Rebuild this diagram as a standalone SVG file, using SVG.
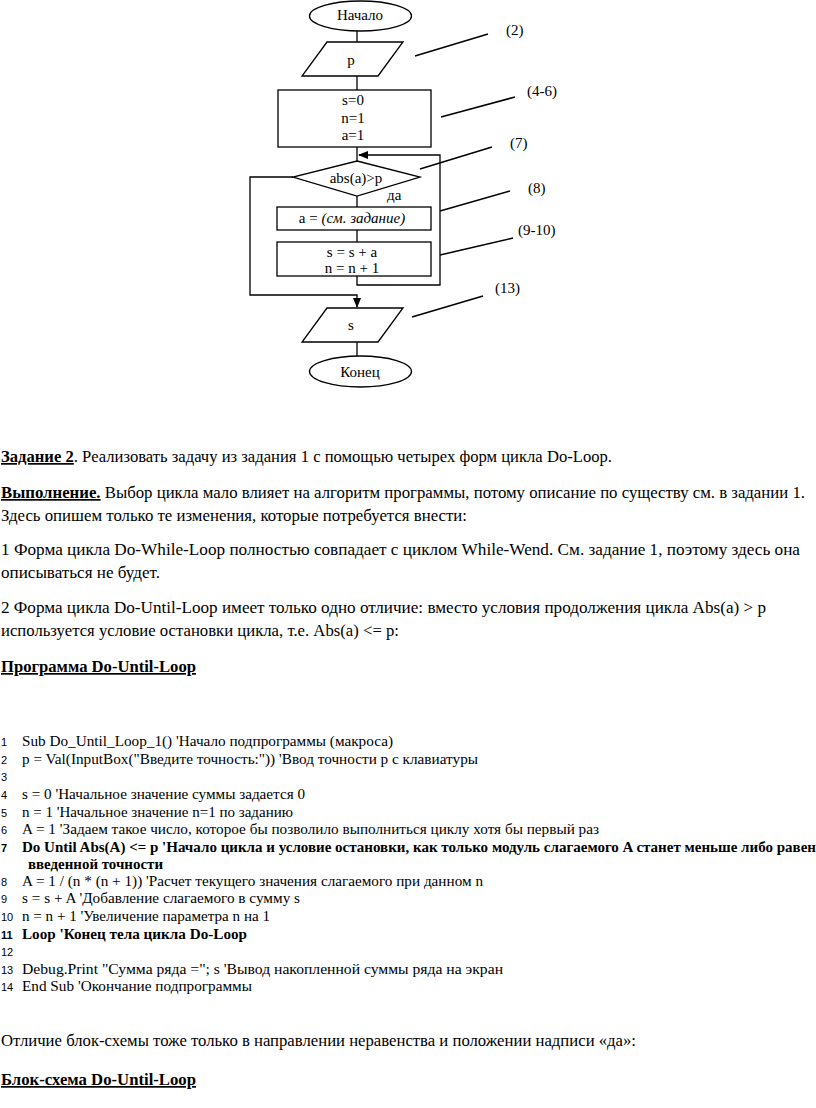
<svg xmlns="http://www.w3.org/2000/svg" width="816" height="1108" viewBox="0 0 816 1108">
<style>
.s{fill:none;stroke:#000;stroke-width:1.3}
.ld{fill:none;stroke:#000;stroke-width:1.5}
.ft{font-family:"Liberation Serif","Times New Roman",serif;font-size:15px;fill:#000;text-anchor:middle}
.lb{font-family:"Liberation Serif","Times New Roman",serif;font-size:15px;fill:#000}
.bt{font-family:"Liberation Serif","Times New Roman",serif;font-size:17px;fill:#000}
.ct{font-family:"Liberation Serif","Times New Roman",serif;font-size:15px;fill:#000}
.nm{font-family:"Liberation Sans",Arial,sans-serif;font-size:11px;fill:#000}
.b{font-weight:bold}
.u{text-decoration:underline}
</style>
<defs>
<marker id="ah" markerWidth="10" markerHeight="10" refX="9" refY="5" orient="auto" markerUnits="userSpaceOnUse">
<path d="M0,1 L10,5 L0,9 Z" fill="#000"/>
</marker>
</defs>
<rect width="816" height="1108" fill="#fff"/>

<g id="connectors">
<line class="s" x1="357" y1="31" x2="357" y2="42"/>
<line class="s" x1="357" y1="76" x2="357" y2="90"/>
<line class="s" x1="357" y1="147" x2="357" y2="161"/>
<line class="s" x1="357" y1="196" x2="357" y2="207"/>
<line class="s" x1="357" y1="230" x2="357" y2="242"/>
<polyline class="s" points="357,276 357,285 440,285 440,155 359,155" marker-end="url(#ah)"/>
<polyline class="s" points="293,177 250,177 250,295 357,295 357,307" marker-end="url(#ah)"/>
<line class="s" x1="357" y1="342" x2="357" y2="356"/>
<line class="ld" x1="415" y1="56" x2="488" y2="34"/>
<line class="ld" x1="441" y1="117" x2="515" y2="97"/>
<line class="ld" x1="420" y1="169" x2="492" y2="147"/>
<line class="ld" x1="440" y1="211" x2="510" y2="191"/>
<line class="ld" x1="440" y1="255" x2="513" y2="238"/>
<line class="ld" x1="412" y1="317" x2="483" y2="296"/>
</g>

<g id="start">
<ellipse class="s" cx="360.5" cy="16" rx="51" ry="15"/>
<text class="ft" x="360" y="20">Начало</text>
</g>
<g id="input-p">
<polygon class="s" points="327,42 403,42 378,76 302,76"/>
<text class="ft" x="351" y="65">p</text>
</g>
<g id="init">
<rect class="s" x="278" y="90" width="153" height="57"/>
<text class="ft" x="353" y="105">s=0</text>
<text class="ft" x="353" y="123">n=1</text>
<text class="ft" x="353" y="140">a=1</text>
</g>
<g id="cond">
<polygon class="s" points="357,161 420,177 357,196 293,177"/>
<text class="ft" x="356" y="183">abs(a)&gt;p</text>
<text class="lb" x="387" y="200">да</text>
</g>
<g id="calc-a">
<rect class="s" x="277" y="207" width="154" height="23"/>
<text class="ft" x="352" y="223">a = <tspan font-style="italic">(см. задание)</tspan></text>
</g>
<g id="update">
<rect class="s" x="277" y="242" width="154" height="34"/>
<text class="ft" x="352" y="257">s = s + a</text>
<text class="ft" x="352" y="273">n = n + 1</text>
</g>
<g id="output-s">
<polygon class="s" points="327,308 403,308 378,342 302,342"/>
<text class="ft" x="351" y="330">s</text>
</g>
<g id="end">
<ellipse class="s" cx="360.5" cy="371.5" rx="51" ry="15.5"/>
<text class="ft" x="360" y="377">Конец</text>
</g>

<g id="labels">
<text class="lb" x="506" y="35">(2)</text>
<text class="lb" x="527" y="96">(4-6)</text>
<text class="lb" x="510" y="148">(7)</text>
<text class="lb" x="528" y="193">(8)</text>
<text class="lb" x="518" y="235">(9-10)</text>
<text class="lb" x="495" y="293">(13)</text>
</g>

<g id="body">
<text class="bt" x="1" y="462" textLength="611" lengthAdjust="spacingAndGlyphs"><tspan class="b u">Задание 2</tspan>. Реализовать задачу из задания 1 с помощью четырех форм цикла Do-Loop.</text>
<text class="bt" x="1" y="498" textLength="804" lengthAdjust="spacingAndGlyphs"><tspan class="b u">Выполнение.</tspan> Выбор цикла мало влияет на алгоритм программы, потому описание по существу см. в задании 1.</text>
<text class="bt" x="1" y="521" textLength="466" lengthAdjust="spacingAndGlyphs">Здесь опишем только те изменения, которые потребуется внести:</text>
<text class="bt" x="1" y="555" textLength="799" lengthAdjust="spacingAndGlyphs">1 Форма цикла Do-While-Loop полностью совпадает с циклом While-Wend. См. задание 1, поэтому здесь она</text>
<text class="bt" x="1" y="578" textLength="159" lengthAdjust="spacingAndGlyphs">описываться не будет.</text>
<text class="bt" x="1" y="613" textLength="765" lengthAdjust="spacingAndGlyphs">2 Форма цикла Do-Until-Loop имеет только одно отличие: вместо условия продолжения цикла Abs(a) &gt; p</text>
<text class="bt" x="1" y="636" textLength="398" lengthAdjust="spacingAndGlyphs">используется условие остановки цикла, т.е. Abs(a) &lt;= p:</text>
<text class="bt b u" x="1" y="672" textLength="195" lengthAdjust="spacingAndGlyphs">Программа Do-Until-Loop</text>
</g>

<g id="code">
<text class="nm" x="1" y="746">1</text>
<text class="ct" x="22" y="746" textLength="371" lengthAdjust="spacingAndGlyphs">Sub Do_Until_Loop_1() 'Начало подпрограммы (макроса)</text>
<text class="nm" x="1" y="764">2</text>
<text class="ct" x="22" y="764" textLength="456" lengthAdjust="spacingAndGlyphs">p = Val(InputBox("Введите точность:")) 'Ввод точности p с клавиатуры</text>
<text class="nm" x="1" y="781">3</text>
<text class="nm" x="1" y="799">4</text>
<text class="ct" x="22" y="799" textLength="283" lengthAdjust="spacingAndGlyphs">s = 0 'Начальное значение суммы задается 0</text>
<text class="nm" x="1" y="817">5</text>
<text class="ct" x="22" y="817" textLength="271" lengthAdjust="spacingAndGlyphs">n = 1 'Начальное значение n=1 по заданию</text>
<text class="nm" x="1" y="834">6</text>
<text class="ct" x="22" y="834" textLength="577" lengthAdjust="spacingAndGlyphs">A = 1 'Задаем такое число, которое бы позволило выполниться циклу хотя бы первый раз</text>
<text class="nm b" x="1" y="852">7</text>
<text class="ct b" x="22" y="852" textLength="794" lengthAdjust="spacingAndGlyphs">Do Until Abs(A) &lt;= p 'Начало цикла и условие остановки, как только модуль слагаемого A станет меньше либо равен</text>
<text class="ct b" x="28" y="869" textLength="135" lengthAdjust="spacingAndGlyphs">введенной точности</text>
<text class="nm" x="1" y="886">8</text>
<text class="ct" x="22" y="886" textLength="461" lengthAdjust="spacingAndGlyphs">A = 1 / (n * (n + 1)) 'Расчет текущего значения слагаемого при данном n</text>
<text class="nm" x="1" y="903">9</text>
<text class="ct" x="22" y="903" textLength="278" lengthAdjust="spacingAndGlyphs">s = s + A 'Добавление слагаемого в сумму s</text>
<text class="nm" x="1" y="921">10</text>
<text class="ct" x="22" y="921" textLength="248" lengthAdjust="spacingAndGlyphs">n = n + 1 'Увеличение параметра n на 1</text>
<text class="nm b" x="1" y="939">11</text>
<text class="ct b" x="22" y="939" textLength="225" lengthAdjust="spacingAndGlyphs">Loop 'Конец тела цикла Do-Loop</text>
<text class="nm" x="1" y="956">12</text>
<text class="nm" x="1" y="974">13</text>
<text class="ct" x="22" y="974" textLength="481" lengthAdjust="spacingAndGlyphs">Debug.Print "Сумма ряда ="; s 'Вывод накопленной суммы ряда на экран</text>
<text class="nm" x="1" y="991">14</text>
<text class="ct" x="22" y="991" textLength="230" lengthAdjust="spacingAndGlyphs">End Sub 'Окончание подпрограммы</text>
</g>

<g id="footer">
<text class="bt" x="1" y="1046" textLength="635" lengthAdjust="spacingAndGlyphs">Отличие блок-схемы тоже только в направлении неравенства и положении надписи «да»:</text>
<text class="bt b u" x="1" y="1085" textLength="195" lengthAdjust="spacingAndGlyphs">Блок-схема Do-Until-Loop</text>
</g>
</svg>
